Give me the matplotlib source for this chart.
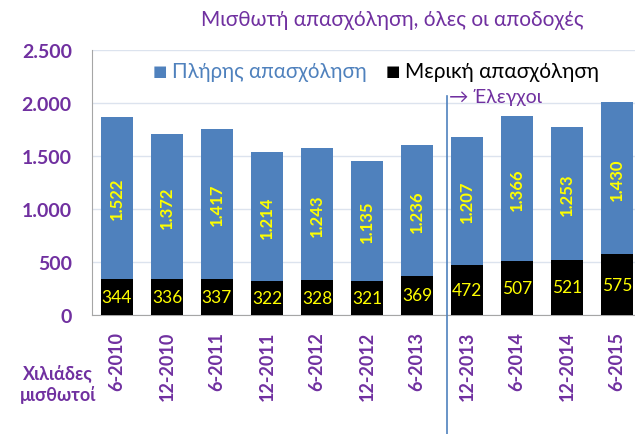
import matplotlib.pyplot as plt
import numpy as np

periods = ['6-2010', '12-2010', '6-2011', '12-2011', '6-2012', '12-2012',
           '6-2013', '12-2013', '6-2014', '12-2014', '6-2015']
part_time = [344, 336, 337, 322, 328, 321, 369, 472, 507, 521, 575]
full_time = [1522, 1372, 1417, 1214, 1243, 1135, 1236, 1207, 1366, 1253, 1430]
y_ticks = [0, 500, 1000, 1500, 2000, 2500]
y_tick_labels = ['0', '500', '1.000', '1.500', '2.000', '2.500']

plt.rcParams['font.family'] = ['Lato', 'Noto Sans', 'DejaVu Sans']

purple = '#7030A0'
blue = '#4F81BD'
yellow = '#FFFF00'

fig = plt.figure(figsize=(6.35, 4.35), dpi=100)
ax = fig.add_axes([92 / 635, 1 - 316 / 435, 550 / 635, 265 / 435])

x = np.arange(len(periods))
ax.bar(x, part_time, width=0.64, color='black', label='Μερική απασχόληση', zorder=3)
ax.bar(x, full_time, width=0.64, bottom=part_time, color=blue,
       label='Πλήρης απασχόληση', zorder=3)

# data labels
for i in range(len(periods)):
    ax.text(x[i], part_time[i] / 2, str(part_time[i]), color=yellow,
            ha='center', va='center', fontsize=12.5, zorder=4)
    ft = '{:,}'.format(full_time[i]).replace(',', '.')
    ax.text(x[i], part_time[i] + full_time[i] / 2, ft, color=yellow, rotation=90,
            ha='center', va='center', fontsize=12, fontweight='bold', zorder=4)

ax.set_xlim(-0.5, len(periods) - 0.5)
ax.set_ylim(0, 2500)
ax.set_yticks(y_ticks)
ax.set_yticklabels(y_tick_labels, color=purple, fontsize=14, fontweight='bold')
ax.set_xticks(x)
ax.set_xticklabels(periods, rotation=90, color=purple, fontsize=13, fontweight='bold')
ax.tick_params(length=0, pad=11.5)
ax.tick_params(axis='y', pad=14.5)
ax.grid(axis='y', color='#DCE3EE', linewidth=1, zorder=0)
for s in ['top', 'right']:
    ax.spines[s].set_visible(False)
ax.spines['left'].set_color('#A6A6A6')
ax.spines['bottom'].set_color('#A6A6A6')

# separator line and note
ax.axvline(6.6, ymin=-0.45, ymax=0.826, color=blue, linewidth=1.2, clip_on=False, zorder=5)
fig.text(449 / 635, 1 - 97 / 435, '→ Έλεγχοι', color=purple, fontsize=14,
         ha='left', va='center')

fig.text(392 / 635, 1 - 20 / 435, 'Μισθωτή απασχόληση, όλες οι αποδοχές', color=purple,
         fontsize=15, ha='center', va='center')
fig.text(58 / 635, 1 - 384 / 435, 'Χιλιάδες\nμισθωτοί', color=purple, fontsize=13,
         fontweight='bold', ha='center', va='center', linespacing=1.3)

# legend
fig.text(160 / 635, 1 - 72 / 435, '■', color=blue, fontsize=11, ha='center', va='center')
fig.text(172 / 635, 1 - 72 / 435, 'Πλήρης απασχόληση', color=blue, fontsize=14.8,
         ha='left', va='center')
fig.text(393 / 635, 1 - 72 / 435, '■', color='black', fontsize=11, ha='center', va='center')
fig.text(405 / 635, 1 - 72 / 435, 'Μερική απασχόληση', color='black', fontsize=15,
         ha='left', va='center')

fig.savefig('out.png', dpi=100)
